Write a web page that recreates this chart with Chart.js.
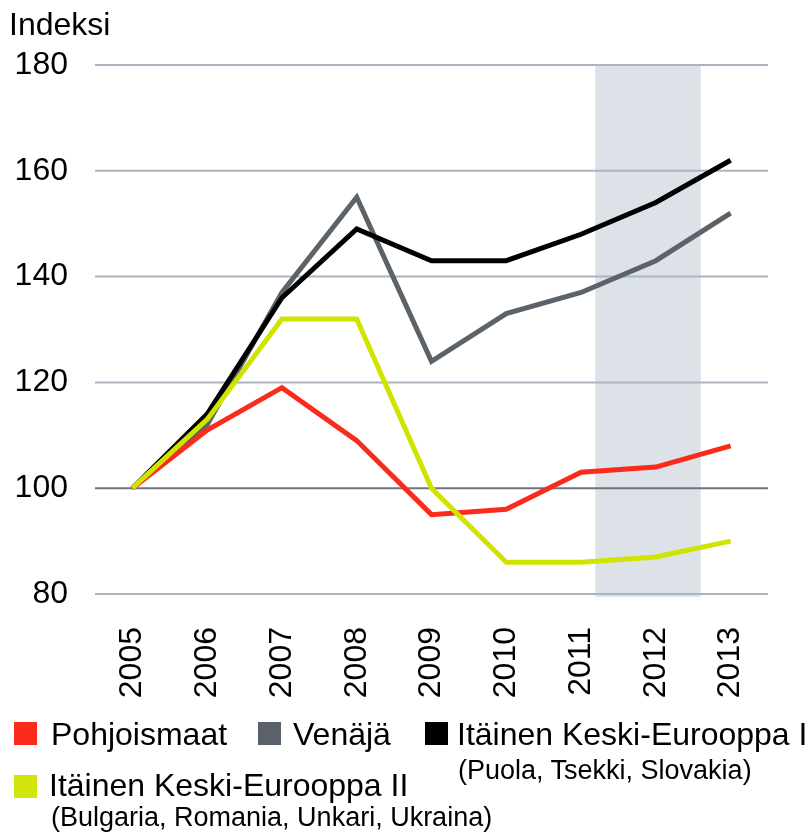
<!DOCTYPE html>
<html>
<head>
<meta charset="utf-8">
<script src="https://cdn.jsdelivr.net/npm/chart.js@4"></script>
<style>
  html, body { margin:0; padding:0; background:#fff; }
  #wrap { position:relative; width:809px; height:836px; font-family:"Liberation Sans", Arial, sans-serif; color:#000; }
  canvas { position:absolute; left:0; top:0; }
  .t { position:absolute; white-space:nowrap; line-height:36px; height:36px; }
  .big { font-size:32px; }
  .small { font-size:27px; line-height:30px; height:30px; }
  .sq { position:absolute; width:23px; height:23px; }
</style>
</head>
<body>
<div id="wrap">
  <canvas id="c" width="809" height="836"></canvas>
  <div class="t big" style="left:9px; top:6px;">Indeksi</div>
  <div id="legend"></div>
</div>
<script>
const years = ['2005','2006','2007','2008','2009','2010','2011','2012','2013'];
const pohjoismaat = [100,111,119,109,95,96,103,104,108];
const venaja = [100,112,137,155,124,133,137,143,152];
const itainen1 = [100,114,136,149,143,143,148,154,162];
const itainen2 = [100,113,132,132,100,86,86,87,90];
const yTicks = [80,100,120,140,160,180];
const shadeRange = [6.19, 7.6];

const colors = { red:'#fb2b1c', gray:'#5b6268', black:'#000000', yellow:'#d0e400' };

const shadePlugin = {
  id:'shade',
  beforeDatasetsDraw(chart){
    const {ctx, chartArea, scales} = chart;
    const x0 = scales.x.getPixelForValue(shadeRange[0]);
    const x1 = scales.x.getPixelForValue(shadeRange[1]);
    ctx.save();
    ctx.fillStyle = '#dde1e8';
    ctx.fillRect(x0, chartArea.top, x1 - x0, chartArea.bottom - chartArea.top + 3);
    ctx.restore();
  }
};
const gridOver = {
  id:'gridOver',
  beforeDatasetsDraw(chart){
    const {ctx, chartArea, scales} = chart;
    ctx.save();
    scales.y.ticks.forEach(t => {
      const y = scales.y.getPixelForValue(t.value);
      ctx.strokeStyle = t.value === 100 ? '#6c757d' : '#a9b6c2';
      ctx.lineWidth = 2;
      ctx.beginPath();
      ctx.moveTo(chartArea.left, y);
      ctx.lineTo(chartArea.right, y);
      ctx.stroke();
    });
    ctx.restore();
  }
};

const ds = (label, data, color, order) => ({
  label, data, borderColor: color, backgroundColor: color, borderWidth: 5,
  pointRadius: 0, tension: 0, fill: false, order, borderJoinStyle:'miter'
});

const fontSpec = { family:'"Liberation Sans", Arial, sans-serif', size:32 };

new Chart(document.getElementById('c'), {
  type:'line',
  data:{
    labels: years,
    datasets:[
      ds('Pohjoismaat', pohjoismaat, colors.red, 1),
      ds('Venäjä', venaja, colors.gray, 3),
      ds('Itäinen Keski-Eurooppa I', itainen1, colors.black, 2),
      ds('Itäinen Keski-Eurooppa II', itainen2, colors.yellow, 0)
    ]
  },
  options:{
    responsive:false,
    animation:false,
    devicePixelRatio:1,
    layout:{ padding:{ top:65, right:41, left:0, bottom:0 } },
    plugins:{ legend:{display:false}, tooltip:{enabled:false} },
    scales:{
      x:{
        offset:true,
        grid:{ display:false },
        border:{ display:false },
        ticks:{ minRotation:90, maxRotation:90, padding:25, color:'#000', font:fontSpec },
        afterFit(s){ s.height = 836 - 594; }
      },
      y:{
        min:80, max:180,
        afterBuildTicks(s){ s.ticks = yTicks.map(v => ({value:v})); },
        grid:{ display:false, drawTicks:false },
        border:{ display:false },
        ticks:{ padding:27, color:'#000', font:fontSpec },
        afterFit(s){ s.width = 95; }
      }
    }
  },
  plugins:[shadePlugin, gridOver]
});

const legendItems = [
  {sq:colors.red, sqx:14, sqy:722, text:'Pohjoismaat', tx:51, ty:716},
  {sq:'#5a6168', sqx:258, sqy:722, text:'Venäjä', tx:293, ty:716},
  {sq:colors.black, sqx:425, sqy:722, text:'Itäinen Keski-Eurooppa I', tx:457, ty:716},
  {sq:'#d2e50a', sqx:14, sqy:775, text:'Itäinen Keski-Eurooppa II', tx:49, ty:767}
];
const subLabels = [
  {text:'(Puola, Tsekki, Slovakia)', x:458, y:755},
  {text:'(Bulgaria, Romania, Unkari, Ukraina)', x:51, y:802}
];
const lg = document.getElementById('legend');
legendItems.forEach(it => {
  const s = document.createElement('div');
  s.className = 'sq'; s.style.left = it.sqx+'px'; s.style.top = it.sqy+'px'; s.style.background = it.sq;
  lg.appendChild(s);
  const t = document.createElement('div');
  t.className = 't big'; t.style.left = it.tx+'px'; t.style.top = it.ty+'px'; t.textContent = it.text;
  lg.appendChild(t);
});
subLabels.forEach(it => {
  const t = document.createElement('div');
  t.className = 't small'; t.style.left = it.x+'px'; t.style.top = it.y+'px'; t.textContent = it.text;
  lg.appendChild(t);
});
</script>
</body>
</html>
